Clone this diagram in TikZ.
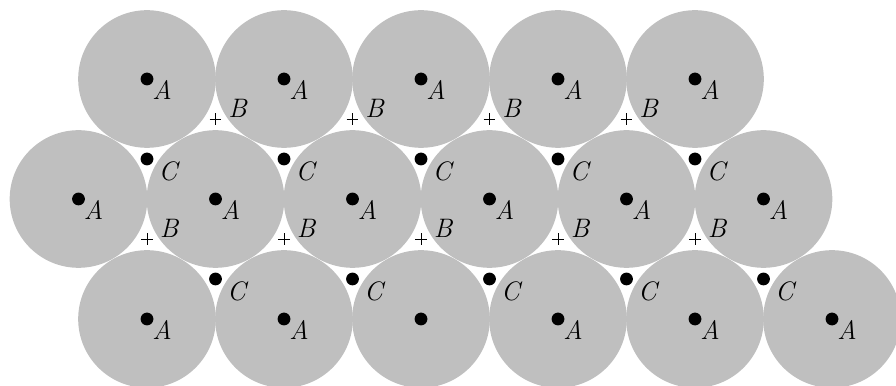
\documentclass[tikz,border=0pt]{standalone}
\usepackage{fontspec}
\usetikzlibrary{shapes.misc}
\tikzstyle{ball}=[fill=black!25]
\tikzstyle{site}=[circle,fill=black,inner sep=0pt,minimum size=0.32cm]
\tikzstyle{hole}=[draw,cross out,rotate=45,inner sep=0pt,minimum size=0.19cm,line width=0.6pt]
\tikzstyle{lbl}=[font=\fontsize{19}{21}\selectfont\itshape,inner sep=0pt]

\begin{document}
\begin{tikzpicture}[x=0.025cm,y=-0.025cm]
\useasboundingbox (0,0) rectangle (896,386);
\clip (0,0) rectangle (896,386);
\foreach \i in {0,...,4} \fill[ball] (147+137*\i,79) circle (1.72cm);
\foreach \i in {0,...,5} \fill[ball] (78.5+137*\i,199) circle (1.72cm);
\foreach \i in {0,...,5} \fill[ball] (147+137*\i,319) circle (1.72cm);
\foreach \i in {0,...,4} {
  \node[site] (a1\i) at (147+137*\i,79) {};
  \node[lbl] (la1\i) at ([shift={(15,11)}]a1\i) {A};
}
\foreach \i in {0,...,5} {
  \node[site] (a2\i) at (78.5+137*\i,199) {};
  \node[lbl] (la2\i) at ([shift={(15,11)}]a2\i) {A};
}
\foreach \i in {0,...,5} \node[site] (a3\i) at (147+137*\i,319) {};
\foreach \i in {0,1,3,4,5} \node[lbl] (la3\i) at ([shift={(15,11)}]a3\i) {A};
\foreach \i in {0,...,3} {
  \node[hole] (b1\i) at (215.5+137*\i,119) {};
  \node[lbl] (lb1\i) at ([shift={(22,-11)}]b1\i) {B};
}
\foreach \i in {0,...,4} {
  \node[hole] (b2\i) at (147+137*\i,239) {};
  \node[lbl] (lb2\i) at ([shift={(22,-11)}]b2\i) {B};
}
\foreach \i in {0,...,4} {
  \node[site] (c1\i) at (147+137*\i,159) {};
  \node[lbl] (lc1\i) at ([shift={(21,12)}]c1\i) {C};
}
\foreach \i in {0,...,4} {
  \node[site] (c2\i) at (215.5+137*\i,279) {};
  \node[lbl] (lc2\i) at ([shift={(21,12)}]c2\i) {C};
}
\end{tikzpicture}
\end{document}
